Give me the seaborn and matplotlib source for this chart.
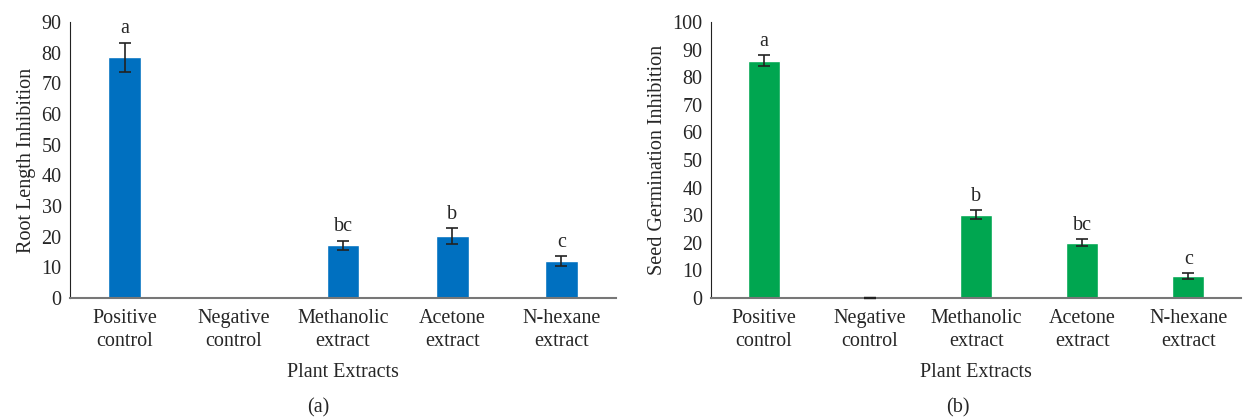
import numpy as np
import pandas as pd
import matplotlib.pyplot as plt
import seaborn as sns

sns.set_style("white")
plt.rcParams['font.family'] = ['Liberation Serif', 'DejaVu Serif']
plt.rcParams['font.size'] = 14.5

# data
categories = ['Positive\ncontrol', 'Negative\ncontrol', 'Methanolic\nextract',
              'Acetone\nextract', 'N-hexane\nextract']
root_inhib = [78.5, 0, 17.2, 20.2, 12.0]
root_err = [4.8, 0, 1.5, 2.5, 1.6]
root_letters = ['a', '', 'bc', 'b', 'c']
seed_inhib = [86.0, 0, 30.2, 20.1, 8.0]
seed_err = [2.1, 0, 1.6, 1.1, 1.1]
seed_letters = ['a', '', 'b', 'bc', 'c']

fig = plt.figure(figsize=(12.45, 4.19), dpi=100)
ax1 = fig.add_axes([0.0562, 0.2888, 0.4386, 0.6587])
ax2 = fig.add_axes([0.571, 0.2888, 0.426, 0.6587])


def draw_panel(ax, vals, errs, letters, color, ylabel, ymax, show_zero_cap):
    df = pd.DataFrame({'cat': categories, 'val': vals})
    sns.barplot(data=df, x='cat', y='val', color=color, saturation=1,
                width=0.3, ax=ax)
    xs = np.arange(len(categories))
    for x, v, e, lab in zip(xs, vals, errs, letters):
        if e > 0 or show_zero_cap:
            ax.errorbar(x, v, yerr=e, fmt='none', ecolor='#222222',
                        elinewidth=1.2, capsize=4.5, capthick=1.6 if e == 0 else 1.2,
                        zorder=5, clip_on=False)
        if lab:
            ax.annotate(lab, (x, v + e), xytext=(0, 3), textcoords='offset points',
                        ha='center', va='bottom', fontsize=14.5)
    ax.set_xlim(-0.5, len(categories) - 0.5)
    ax.set_ylim(0, ymax)
    ax.set_yticks(np.arange(0, ymax + 1, 10))
    ax.set_ylabel(ylabel, labelpad=4)
    ax.set_xlabel('Plant Extracts', labelpad=9)
    ax.tick_params(axis='both', length=0, pad=6)
    ax.tick_params(axis='x', pad=8)
    for s in ['top', 'right']:
        ax.spines[s].set_visible(False)
    ax.spines['left'].set_color('#222222')
    ax.spines['bottom'].set_color('#777777')
    ax.spines['bottom'].set_linewidth(1.5)
    for t in ax.get_xticklabels():
        t.set_linespacing(1.25)


draw_panel(ax1, root_inhib, root_err, root_letters, '#0070C0',
           'Root Length Inhibition', 90, False)
draw_panel(ax2, seed_inhib, seed_err, seed_letters, '#00A650',
           'Seed Germination Inhibition', 100, True)

fig.text(0.2554, 0.026, '(a)', ha='center', va='center', fontsize=14.5)
fig.text(0.7695, 0.026, '(b)', ha='center', va='center', fontsize=14.5)

fig.savefig('out.png', dpi=100)
